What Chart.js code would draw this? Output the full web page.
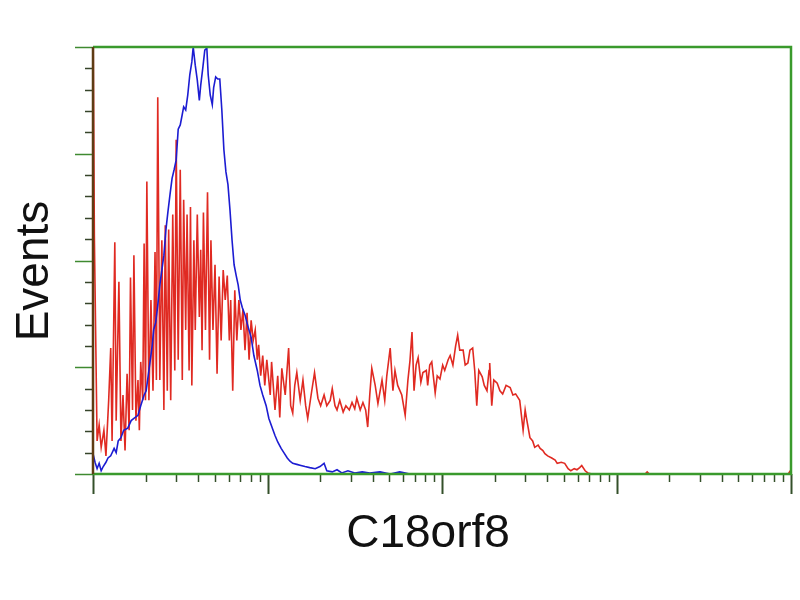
<!DOCTYPE html>
<html>
<head>
<meta charset="utf-8">
<title>C18orf8</title>
<script src="https://cdn.jsdelivr.net/npm/chart.js@4.4.1/dist/chart.umd.min.js"></script>
<style>
  html, body { margin: 0; padding: 0; background: #fff; }
  #wrap { width: 800px; height: 600px; }
</style>
</head>
<body>
<div id="wrap"><canvas id="histChart" width="800" height="600"></canvas></div>
<script>
// Axis labels
const xLabel = "C18orf8";
const yLabel = "Events";

// 1024 channels across 4 log decades, event counts 0..400
const channelMax = 1024;
const decades = [0, 1, 2, 3, 4];
const minorSteps = [2, 3, 4, 5, 6, 7, 8, 9];
const eventMax = 400;
const eventMajor = [0, 100, 200, 300, 400];
const eventMinorStep = 20;

// Stained sample, [channel, events]
const redHistogram = [
  [0, 440], [2, 223], [6, 31], [9, 46], [12, 25], [16, 41], [19, 17], [23, 69], [26, 118], [28, 31],
  [32, 217], [34, 50], [38, 180], [41, 31], [44, 74], [47, 22], [50, 94], [53, 41], [55, 184], [58, 60],
  [60, 205], [63, 50], [66, 88], [68, 41], [70, 105], [73, 69], [75, 216], [77, 69], [79, 274], [82, 69],
  [85, 163], [88, 78], [91, 208], [93, 88], [95, 353], [98, 88], [101, 219], [104, 60], [106, 233], [109, 78],
  [111, 229], [114, 69], [117, 243], [120, 97], [122, 313], [125, 107], [128, 285], [131, 88], [133, 257], [136, 135],
  [138, 243], [141, 97], [143, 250], [145, 83], [148, 219], [150, 135], [153, 243], [156, 147], [158, 210], [160, 116],
  [162, 245], [165, 135], [168, 264], [171, 107], [173, 219], [176, 135], [179, 196], [182, 94], [185, 185], [188, 125],
  [191, 191], [194, 163], [197, 186], [200, 125], [202, 163], [205, 78], [208, 172], [211, 125], [214, 163], [217, 135],
  [220, 154], [223, 116], [226, 151], [229, 107], [232, 144], [235, 125], [238, 135], [241, 107], [243, 121], [246, 92],
  [249, 111], [252, 83], [255, 107], [260, 74], [262, 105], [267, 60], [271, 92], [274, 53], [277, 99], [282, 74],
  [287, 118], [290, 64], [293, 57], [296, 83], [299, 95], [304, 69], [308, 88], [312, 64], [315, 52], [320, 74],
  [325, 95], [330, 71], [334, 64], [339, 74], [343, 64], [348, 69], [351, 80], [355, 64], [358, 60], [362, 69],
  [367, 58], [371, 64], [376, 60], [380, 67], [384, 61], [387, 71], [392, 60], [396, 67], [400, 60], [403, 44],
  [406, 74], [409, 99], [414, 83], [418, 66], [424, 88], [428, 69], [431, 92], [436, 118], [440, 78], [443, 97],
  [447, 83], [453, 74], [458, 55], [462, 88], [465, 106], [468, 133], [471, 78], [474, 102], [477, 109], [481, 86],
  [484, 95], [489, 97], [491, 83], [494, 102], [497, 105], [502, 76], [505, 92], [509, 89], [513, 102], [516, 97],
  [521, 107], [524, 111], [528, 102], [532, 120], [535, 130], [538, 116], [543, 116], [546, 102], [550, 104], [553, 116],
  [557, 118], [560, 97], [563, 64], [566, 97], [571, 91], [574, 83], [578, 78], [581, 97], [582, 104], [585, 64],
  [588, 88], [593, 85], [597, 78], [601, 75], [606, 83], [612, 81], [616, 74], [620, 75], [626, 69], [631, 41],
  [634, 60], [636, 52], [641, 34], [645, 31], [648, 25], [653, 27], [656, 24], [660, 22], [663, 19], [667, 17],
  [673, 15], [678, 13], [681, 10], [687, 11], [692, 10], [697, 5], [701, 3], [706, 5], [710, 4], [714, 6],
  [717, 8], [722, 3], [726, 1], [732, 0], [810, 0], [813, 2], [816, 0], [1020, 0], [1023, 3]
];

// Control sample, [channel, events]
const blueHistogram = [
  [0, 19], [3, 11], [6, 5], [9, 10], [12, 3], [15, 7], [19, 11], [22, 15], [26, 17], [31, 24],
  [34, 20], [37, 31], [41, 34], [45, 41], [51, 43], [56, 50], [60, 52], [66, 55], [70, 64], [75, 74],
  [78, 78], [82, 97], [87, 121], [89, 135], [92, 142], [95, 158], [98, 177], [101, 191], [104, 205], [107, 229],
  [110, 246], [113, 262], [116, 277], [119, 285], [122, 294], [125, 323], [128, 327], [131, 337], [133, 344], [136, 341],
  [139, 355], [142, 374], [145, 386], [147, 400], [150, 383], [153, 369], [156, 350], [158, 364], [161, 380], [164, 397],
  [167, 399], [169, 374], [172, 355], [175, 346], [177, 362], [180, 372], [183, 370], [186, 370], [189, 341], [192, 304],
  [195, 283], [198, 271], [201, 247], [204, 219], [207, 196], [210, 186], [213, 177], [216, 163], [219, 156], [223, 149],
  [227, 139], [232, 128], [236, 111], [241, 97], [245, 83], [249, 74], [254, 64], [258, 52], [263, 43], [267, 36],
  [271, 30], [276, 24], [280, 20], [285, 15], [289, 12], [293, 10], [299, 9], [305, 8], [311, 7], [318, 6],
  [326, 5], [333, 7], [339, 10], [343, 3], [351, 2], [358, 4], [365, 1], [374, 3], [384, 1], [395, 2],
  [406, 1], [421, 2], [436, 0], [450, 2], [465, 0], [1023, 0]
];

const toPoints = (rows) => rows.map(([c, n]) => ({ x: c, y: n }));

// Box, log ticks and labels, drawn on top of the histograms
const framePlugin = {
  id: "frame",
  afterDatasetsDraw(chart) {
    const { ctx, chartArea: a, scales: { x, y } } = chart;
    ctx.save();

    // y ticks (left side)
    for (let v = 0; v <= eventMax; v += eventMinorStep) {
      const py = Math.round(y.getPixelForValue(v)) + 0.5;
      const major = eventMajor.includes(v);
      ctx.strokeStyle = major ? "#3f8a30" : "#36452a";
      ctx.lineWidth = 1.5;
      ctx.beginPath();
      ctx.moveTo(a.left - (major ? 18 : 8), py);
      ctx.lineTo(a.left, py);
      ctx.stroke();
    }

    // x ticks (log decades)
    for (const d of decades) {
      const px = Math.round(x.getPixelForValue(d * channelMax / 4)) + 0.5;
      ctx.strokeStyle = "#34502a";
      ctx.lineWidth = 2;
      ctx.beginPath();
      ctx.moveTo(px, a.bottom);
      ctx.lineTo(px, a.bottom + 20);
      ctx.stroke();
      if (d === decades[decades.length - 1]) continue;
      for (const m of minorSteps) {
        const mx = Math.round(x.getPixelForValue((d + Math.log10(m)) * channelMax / 4)) + 0.5;
        ctx.lineWidth = 1.5;
        ctx.beginPath();
        ctx.moveTo(mx, a.bottom);
        ctx.lineTo(mx, a.bottom + 8);
        ctx.stroke();
      }
    }

    // frame
    ctx.lineWidth = 2.5;
    ctx.strokeStyle = "#3a9a2c";
    ctx.beginPath();
    ctx.moveTo(a.left, a.top);
    ctx.lineTo(a.right, a.top);
    ctx.lineTo(a.right, a.bottom);
    ctx.lineTo(a.left, a.bottom);
    ctx.stroke();
    ctx.strokeStyle = "#5e3c14";
    ctx.beginPath();
    ctx.moveTo(a.left, a.top);
    ctx.lineTo(a.left, a.bottom);
    ctx.stroke();

    // axis titles
    ctx.fillStyle = "#111";
    ctx.font = "46px 'Liberation Sans', Arial, sans-serif";
    ctx.textAlign = "center";
    ctx.textBaseline = "alphabetic";
    ctx.fillText(xLabel, 428, 547);
    ctx.translate(48, 271);
    ctx.rotate(-Math.PI / 2);
    ctx.fillText(yLabel, 0, 0);
    ctx.restore();
  }
};

new Chart(document.getElementById("histChart"), {
  type: "line",
  data: {
    datasets: [
      {
        label: "Control",
        data: toPoints(blueHistogram),
        borderColor: "#1c1cd2",
        borderWidth: 1.6,
        pointRadius: 0,
        tension: 0,
        order: 0
      },
      {
        label: xLabel,
        data: toPoints(redHistogram),
        borderColor: "#e02a22",
        borderWidth: 1.6,
        pointRadius: 0,
        tension: 0,
        order: 1
      }
    ]
  },
  options: {
    responsive: false,
    animation: false,
    devicePixelRatio: 1,
    layout: { padding: { top: 47, right: 9, bottom: 0, left: 0 } },
    plugins: { legend: { display: false }, tooltip: { enabled: false } },
    scales: {
      x: {
        type: "linear",
        min: 0,
        max: channelMax,
        grid: { display: false },
        ticks: { display: false },
        border: { display: false },
        afterFit(s) { s.height = 126; }
      },
      y: {
        min: 0,
        max: eventMax,
        grid: { display: false },
        ticks: { display: false },
        border: { display: false },
        afterFit(s) { s.width = 93; }
      }
    }
  },
  plugins: [framePlugin]
});
</script>
</body>
</html>
